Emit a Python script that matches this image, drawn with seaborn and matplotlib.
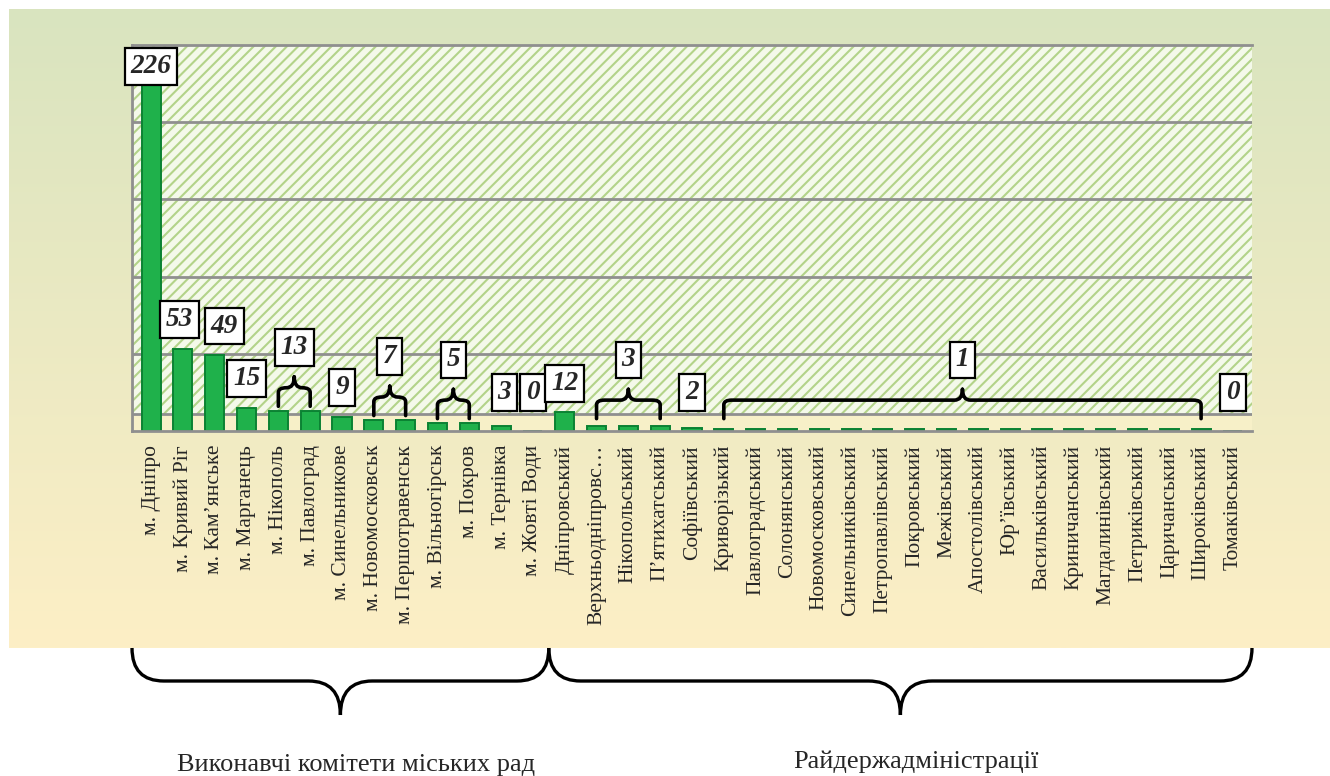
import numpy as np
import pandas as pd
import matplotlib
matplotlib.use("Agg")
import matplotlib.pyplot as plt
import seaborn as sns
from matplotlib.path import Path
from matplotlib.patches import PathPatch, Rectangle
import matplotlib.transforms as mtransforms

# ---------------- data ----------------
categories = [
    "м. Дніпро", "м. Кривий Ріг", "м. Кам’янське", "м. Марганець", "м. Нікополь",
    "м. Павлоград", "м. Синельникове", "м. Новомосковськ", "м. Першотравенськ",
    "м. Вільногірськ", "м. Покров", "м. Тернівка", "м. Жовті Води",
    "Дніпровський", "Верхньодніпровс…", "Нікопольський", "П’ятихатський",
    "Софіївський", "Криворізький", "Павлоградський", "Солонянський",
    "Новомосковський", "Синельниківський", "Петропавлівський", "Покровський",
    "Межівський", "Апостолівський", "Юр’ївський", "Васильківський",
    "Криничанський", "Магдалинівський", "Петриківський", "Царичанський",
    "Широківський", "Томаківський",
]
values = [226, 53, 49, 15, 13, 13, 9, 7, 7, 5, 5, 3, 0,
          12, 3, 3, 3, 2, 1, 1, 1, 1, 1, 1, 1, 1, 1, 1, 1, 1, 1, 1, 1, 1, 0]
# value labels: (first bar, last bar) – brackets join bars sharing a label
label_spans = [(0, 0), (1, 1), (2, 2), (3, 3), (4, 5), (6, 6), (7, 8), (9, 10),
               (11, 11), (12, 12), (13, 13), (14, 16), (17, 17), (18, 33), (34, 34)]
group_names = ["Виконавчі комітети міських рад", "Райдержадміністрації"]
group_sizes = [13, 22]
y_ticks = [0, 50, 100, 150, 200, 250]

df = pd.DataFrame({"cat": categories, "val": values})

# ---------------- style ----------------
sns.set_style("white")
plt.rcParams["font.family"] = ["Liberation Serif", "DejaVu Serif"]
plt.rcParams["hatch.linewidth"] = 1.5

W, H = 1330, 776
fig = plt.figure(figsize=(W / 100, H / 100), dpi=100)
fig.patch.set_facecolor("white")

# gradient background panel
bg = fig.add_axes([9 / W, 1 - 648 / H, 1321 / W, 639 / H], zorder=-5)
grad = np.linspace(0, 1, 256)[:, None]
top_c = np.array(matplotlib.colors.to_rgb("#d9e4bf"))
bot_c = np.array(matplotlib.colors.to_rgb("#fdefc6"))
img = top_c[None, None, :] * (1 - grad[..., None]) + bot_c[None, None, :] * grad[..., None]
bg.imshow(img, aspect="auto", extent=[0, 1, 0, 1])
bg.set_axis_off()

ax_l, ax_r, ax_t, ax_b = 132, 1252, 45, 431
ax = fig.add_axes([ax_l / W, 1 - ax_b / H, (ax_r - ax_l) / W, (ax_b - ax_t) / H])
ax.set_facecolor("none")

# hatched back wall
ax.add_patch(Rectangle((0, 0), 1, 1, transform=ax.transAxes, facecolor="#f4f9ea",
                       edgecolor="#b3d389", hatch="///", lw=0, zorder=0))
ymax = 250
# floor strip
ax.axhspan(0, 11, color="#f7f0c8", zorder=0.5, lw=0)
for t in y_ticks[:-1]:
    ax.axhline(t if t > 0 else 11, color="#8f8f8f", lw=2, zorder=0.8)

sns.barplot(data=df, x="cat", y="val", color="#1fb14b", saturation=1, width=0.6,
            edgecolor="#0b8233", linewidth=1.4, ax=ax, zorder=2)

ax.set_ylim(0, ymax)
ax.set_xlim(-0.6, len(categories) - 0.4)
ax.set_xlabel("")
ax.set_ylabel("")
ax.set_yticks(y_ticks[:-1])
ax.set_yticklabels([])
ax.tick_params(axis="y", length=6, color="#8f8f8f", width=1.5, direction="out")
ax.set_xticks(range(len(categories)))
ax.set_xticklabels(categories, rotation=90, fontsize=15.5, va="top", ha="center")
ax.tick_params(axis="x", length=0, pad=10)
ax.set_xticks(np.arange(-0.5, len(categories), 1), minor=True)
ax.tick_params(axis="x", which="minor", length=6, color="#8f8f8f", width=1.5)
for s in ["left", "bottom", "top"]:
    ax.spines[s].set_color("#8f8f8f")
    ax.spines[s].set_linewidth(2)
ax.spines["right"].set_visible(False)

# ---------------- value labels & brackets ----------------
box = dict(boxstyle="square,pad=0.22", facecolor="white", edgecolor="black", lw=1.6)
tkw = dict(ha="center", va="center", fontsize=19.5, fontweight="bold",
           fontstyle="italic", bbox=box, zorder=6)
nudge = {1: -0.1, 2: 0.3, 11: 0.1}  # small horizontal shifts to keep boxes apart
for a, b in label_spans:
    v = max(values[a:b + 1])
    txt = str(values[a])
    if a == b:
        yc = min(max(v + 19, 25), 236)
        ax.text(a + nudge.get(a, 0), yc, txt, **tkw)
    else:
        lb = max(v, 5) + 3
        hz = lb + 12
        cusp = hz + 7
        xc = (a + b) / 2
        r = 0.25
        verts = [(a, lb), (a, hz - 3), (a, hz), (a + r, hz), (xc - r, hz), (xc, hz), (xc, cusp),
                 (xc, cusp), (xc, hz), (xc + r, hz), (b - r, hz), (b, hz), (b, hz - 3), (b, lb)]
        codes = [Path.MOVETO, Path.LINETO, Path.CURVE3, Path.CURVE3, Path.LINETO,
                 Path.CURVE3, Path.CURVE3, Path.MOVETO, Path.CURVE3, Path.CURVE3,
                 Path.LINETO, Path.CURVE3, Path.CURVE3, Path.LINETO]
        ax.add_patch(PathPatch(Path(verts, codes), fill=False, lw=2.6, edgecolor="black",
                               zorder=5, capstyle="round", joinstyle="round"))
        ax.text(xc, hz + 26, txt, **tkw)

# ---------------- group braces below ----------------
trans = mtransforms.blended_transform_factory(ax.transData, fig.transFigure)
def fy(px):
    return 1 - px / H

start = -0.6
bounds = []
for n in group_sizes:
    end = start + n + (0.1 if start < 0 else 0)
    bounds.append((start, end))
    start = end
bounds[-1] = (bounds[-1][0], len(categories) - 0.4)
label_px_y = [765, 762]
for (a, b), name, ly in zip(bounds, group_names, label_px_y):
    c = (a + b) / 2
    r = 1.0
    yt, ym, ytip = fy(648), fy(681), fy(715)
    verts = [(a, yt), (a, ym), (a + r, ym), (c - r, ym), (c, ym), (c, ytip),
             (c, ytip), (c, ym), (c + r, ym), (b - r, ym), (b, ym), (b, yt)]
    codes = [Path.MOVETO, Path.CURVE3, Path.CURVE3, Path.LINETO, Path.CURVE3, Path.CURVE3,
             Path.MOVETO, Path.CURVE3, Path.CURVE3, Path.LINETO, Path.CURVE3, Path.CURVE3]
    pp = PathPatch(Path(verts, codes), fill=False, lw=2.4, edgecolor="black",
                   transform=trans, clip_on=False, zorder=5)
    fig.add_artist(pp)
    fig.text(ax.transData.transform((c, 0))[0] / W + 0.012, fy(ly), name, ha="center",
             va="center", fontsize=19)

fig.savefig("out.png", dpi=100)
